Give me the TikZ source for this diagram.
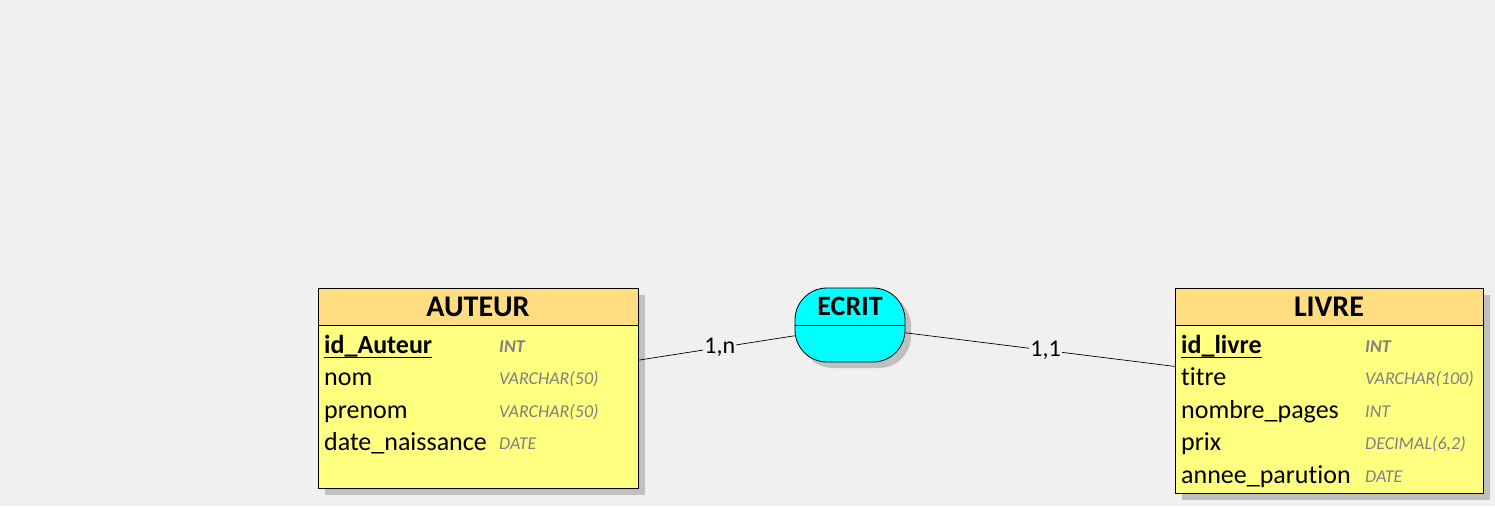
\documentclass[tikz,border=0pt]{standalone}
\usepackage{fontspec}
\setmainfont[Ligatures=NoCommon]{Carlito}
\begin{document}
\begin{tikzpicture}[x=1pt,y=-1pt,
  ent/.style={draw=black,line width=0.8pt,fill=bodyyellow,anchor=north west,inner sep=0pt},
  hdr/.style={draw=black,line width=0.8pt,fill=hdrorange,anchor=north west,inner sep=0pt},
  shadow/.style={fill=shadowgray,draw=none},
  title/.style={font=\fontsize{30}{33}\selectfont\bfseries,inner sep=0pt},
  fld/.style={font=\fontsize{26}{30}\selectfont,anchor=base west,inner sep=0pt},
  key/.style={font=\fontsize{26}{30}\selectfont\bfseries,anchor=base west,inner sep=0pt},
  typ/.style={font=\fontsize{18}{22}\selectfont\itshape,text=typegray,anchor=base west,inner sep=0pt},
  typk/.style={font=\fontsize{18}{22}\selectfont\bfseries\itshape,text=typegray,anchor=base west,inner sep=0pt},
  card/.style={font=\fontsize{24}{27}\selectfont,fill=bg,inner sep=1pt},
  link/.style={draw=black,line width=0.7pt}]
\definecolor{bg}{RGB}{240,240,240}
\definecolor{bodyyellow}{RGB}{255,255,128}
\definecolor{hdrorange}{RGB}{255,221,128}
\definecolor{shadowgray}{RGB}{192,192,192}
\definecolor{typegray}{RGB}{128,128,128}
\definecolor{ecritcyan}{RGB}{0,255,255}
\fill[bg] (0,0) rectangle (1495,506);
\useasboundingbox (0,0) rectangle (1495,506);

% ---------- AUTEUR ----------
\fill[shadow] (325,295) rectangle (645,495);
\node[ent,minimum width=320pt,minimum height=200pt] (auteur) at (318,288) {};
\node[hdr,minimum width=320pt,minimum height=37pt] (auteurh) at (318,288) {};
\node[title] (auteurt) at (478,307) {AUTEUR};
\node[key] (a1) at (324,353) {id\_Auteur};
\draw[line width=1pt] ([yshift=-4pt]a1.base west) -- ([yshift=-4pt]a1.base east);
\node[typk] (a1t) at (499,352) {INT};
\node[fld] (a2) at (324,385) {nom};
\node[typ] (a2t) at (499,384) {VARCHAR(50)};
\node[fld] (a3) at (324,418) {prenom};
\node[typ] (a3t) at (499,417) {VARCHAR(50)};
\node[fld] (a4) at (324,450) {date\_naissance};
\node[typ] (a4t) at (499,449) {DATE};

% ---------- LIVRE ----------
\fill[shadow] (1182,295) rectangle (1490,500);
\node[ent,minimum width=308pt,minimum height=205pt] (livre) at (1175,288) {};
\node[hdr,minimum width=308pt,minimum height=37pt] (livreh) at (1175,288) {};
\node[title] (livret) at (1329,307) {LIVRE};
\node[key] (l1) at (1181,353) {id\_livre};
\draw[line width=1pt] ([yshift=-4pt]l1.base west) -- ([yshift=-4pt]l1.base east);
\node[typk] (l1t) at (1365,352) {INT};
\node[fld] (l2) at (1181,385) {titre};
\node[typ] (l2t) at (1365,384) {VARCHAR(100)};
\node[fld] (l3) at (1181,418) {nombre\_pages};
\node[typ] (l3t) at (1365,417) {INT};
\node[fld] (l4) at (1181,450) {prix};
\node[typ] (l4t) at (1365,449) {DECIMAL(6,2)};
\node[fld] (l5) at (1181,483) {annee\_parution};
\node[typ] (l5t) at (1365,482) {DATE};

% ---------- ECRIT ----------
\fill[shadow,rounded corners=32pt] (801,294) rectangle (911,368);
\node[draw=black,line width=0.8pt,fill=ecritcyan,rounded corners=32pt,
      minimum width=110pt,minimum height=74pt,inner sep=0pt] (ecrit) at (850,325) {};
\draw[line width=0.8pt] (ecrit.west) -- (ecrit.east);
\node[title,font=\fontsize{28}{31}\selectfont\bfseries] (ecritt) at (850,306) {ECRIT};

% ---------- links ----------
\draw[link] (auteur.10) -- node[card,pos=0.52] (c1) {1,n} (ecrit.191);
\draw[link] (ecrit.-8) -- node[card,pos=0.52] (c2) {1,1} (livre.171);
\end{tikzpicture}
\end{document}
